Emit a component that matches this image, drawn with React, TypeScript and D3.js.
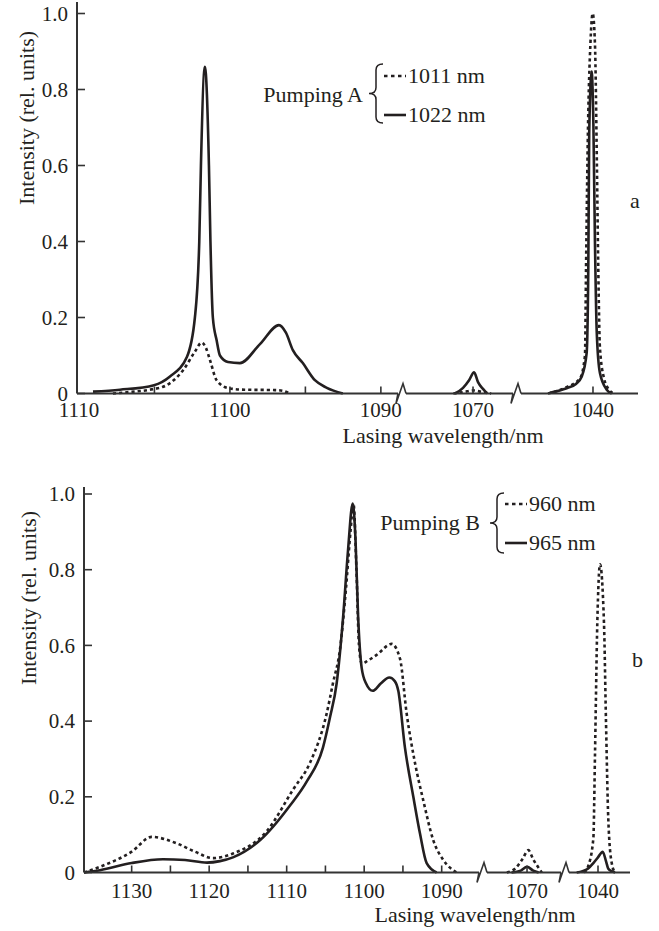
import React from "react";
import * as d3 from "d3";

// ---------- DATA (wavelength nm, relative intensity) ----------
// Panel a : Pumping A
const a1011Main: [number, number][] = [
  [1107.75, 0], [1106.62, 0.004], [1105.3, 0.01], [1104.19, 0.022], [1103.09, 0.062],
  [1102.32, 0.11], [1101.87, 0.134], [1101.59, 0.12], [1101.32, 0.088], [1100.88, 0.035],
  [1100.11, 0.014], [1099.01, 0.01], [1097.02, 0.009], [1096.49, 0.007], [1096.03, 0],
];
const a1011Mid: [number, number][] = [
  [1071.3, 0], [1070.6, 0.004], [1070.0, 0.008], [1069.4, 0.004], [1068.8, 0],
];
const a1011Right: [number, number][] = [
  [1042.98, 0], [1041.79, 0.016], [1040.86, 0.04], [1040.53, 0.1], [1040.46, 0.33],
  [1040.33, 0.7], [1040.17, 0.92], [1040.02, 1.0], [1039.87, 0.92], [1039.74, 0.6],
  [1039.65, 0.33], [1039.54, 0.12], [1039.27, 0.04], [1038.94, 0.01], [1038.61, 0],
];
const a1022Main: [number, number][] = [
  [1109.07, 0.005], [1107.28, 0.01], [1105.03, 0.022], [1103.97, 0.045], [1102.85, 0.096],
  [1102.32, 0.2], [1102.03, 0.4], [1101.92, 0.6], [1101.66, 0.86], [1101.39, 0.6],
  [1101.29, 0.4], [1101.13, 0.2], [1100.88, 0.14], [1100.66, 0.1], [1100.13, 0.083],
  [1099.34, 0.08], [1098.01, 0.13], [1096.75, 0.18], [1096.29, 0.16], [1095.83, 0.114],
  [1095.17, 0.08], [1094.37, 0.035], [1093.58, 0.015], [1092.52, 0],
];
const a1022Mid: [number, number][] = [
  [1071.19, 0], [1070.66, 0.015], [1070.26, 0.035], [1069.93, 0.056], [1069.67, 0.03],
  [1069.34, 0.012], [1069.07, 0],
];
const a1022Right: [number, number][] = [
  [1042.85, 0.002], [1041.74, 0.014], [1041.13, 0.025], [1040.75, 0.044], [1040.42, 0.106],
  [1040.31, 0.33], [1040.25, 0.685], [1040.09, 0.847], [1039.97, 0.7], [1039.87, 0.4],
  [1039.75, 0.16], [1039.54, 0.054], [1039.09, 0.01], [1038.76, 0],
];

// Panel b : Pumping B
const b960Main: [number, number][] = [
  [1136.15, 0], [1134.09, 0.015], [1130, 0.055], [1127.42, 0.094], [1124.19, 0.077],
  [1121.83, 0.055], [1119.51, 0.038], [1116.93, 0.05], [1112.54, 0.11], [1109.15, 0.22],
  [1106.99, 0.29], [1104.84, 0.42], [1104.03, 0.5], [1103.12, 0.59], [1102.35, 0.75],
  [1101.77, 0.9], [1101.38, 0.975], [1101.0, 0.8], [1100.67, 0.6], [1100.32, 0.552],
  [1099.51, 0.56], [1098.39, 0.575], [1096.45, 0.604], [1095.38, 0.565], [1094.52, 0.42],
  [1093.45, 0.29], [1092.37, 0.19], [1091.08, 0.085], [1089.79, 0.033], [1088.06, 0],
];
const b960Mid: [number, number][] = [
  [1072.6, 0], [1071.55, 0.01], [1070.6, 0.035], [1069.83, 0.059], [1069.2, 0.035], [1068.1, 0],
];
const b960Right: [number, number][] = [
  [1041.8, 0], [1041.3, 0.015], [1040.6, 0.09], [1040.39, 0.31], [1040.09, 0.66],
  [1039.74, 0.814], [1039.23, 0.66], [1038.97, 0.4], [1038.67, 0.14], [1038.23, 0.025], [1037.8, 0],
];
const b965Main: [number, number][] = [
  [1136.15, 0], [1134.09, 0.006], [1130, 0.025], [1125.96, 0.035], [1123.12, 0.033],
  [1120.28, 0.026], [1118.61, 0.03], [1116.93, 0.04], [1113.45, 0.085], [1109.57, 0.177],
  [1107.42, 0.24], [1105.32, 0.33], [1104.41, 0.41], [1103.55, 0.5], [1102.7, 0.68],
  [1102.09, 0.85], [1101.48, 0.975], [1101.12, 0.88], [1100.79, 0.68], [1100.32, 0.54],
  [1099.77, 0.5], [1098.9, 0.48], [1097.83, 0.5], [1096.76, 0.515], [1096.03, 0.505],
  [1095.6, 0.48], [1094.74, 0.33], [1093.66, 0.2], [1092.8, 0.103], [1091.94, 0.025], [1090.65, 0],
];
const b965Mid: [number, number][] = [
  [1072.0, 0], [1070.8, 0.005], [1070.0, 0.015], [1069.2, 0.005], [1068.5, 0],
];
const b965Right: [number, number][] = [
  [1042.75, 0], [1041.3, 0.01], [1040.6, 0.025], [1040.0, 0.04], [1039.39, 0.055],
  [1038.97, 0.03], [1038.67, 0.01], [1038.2, 0.003], [1037.8, 0],
];

const yTicks = [0, 0.2, 0.4, 0.6, 0.8, 1.0];
const aTickValues = [1105, 1100, 1095, 1090, 1070, 1040];
const aTickLabels = [1110, 1100, 1090, 1070, 1040];
const bTickValues = [1130, 1125, 1120, 1115, 1110, 1105, 1100, 1095, 1090, 1070, 1040];
const bTickLabels = [1130, 1120, 1110, 1100, 1090, 1070, 1040];

const FONT = "'Liberation Serif', 'Times New Roman', serif";
const INK = "#231f20";
const AXIS = "#333";

type Series = { segs: [number, number][][]; dotted: boolean };

type PanelProps = {
  xDomain: number[];
  xRange: number[];
  breaks: number[];
  yRange: [number, number];
  yAxisTop: number;
  tickValues: number[];
  tickLabels: number[];
  series: Series[];
  tickLabelY: number;
  yLabelRight: number;
  yTitleX: number;
  yTitleY: number;
  xTitleX: number;
  xTitleY: number;
  pumpLabel: string;
  pumpX: number;
  pumpY: number;
  braceX: number;
  braceY1: number;
  braceY2: number;
  legendNames: string[];
  legendY: number[];
  letter: string;
  letterX: number;
  letterY: number;
};

function Panel(p: PanelProps) {
  const x = d3.scaleLinear().domain(p.xDomain).range(p.xRange);
  const y = d3.scaleLinear().domain([0, 1]).range(p.yRange);
  const y0 = y(0);
  const x0 = p.xRange[0];
  const xEnd = p.xRange[p.xRange.length - 1];
  const line = d3
    .line<[number, number]>()
    .x((d) => x(d[0]))
    .y((d) => y(d[1]))
    .curve(d3.curveMonotoneX);

  // axis pieces with breaks
  const pieces: [number, number][] = [];
  let start = x0;
  p.breaks.forEach((b) => {
    pieces.push([start, b - 4]);
    start = b + 4;
  });
  pieces.push([start, xEnd]);

  const bx = p.braceX; // right side of brace
  const bt = bx - 14;
  const bm = (bx + bt) / 2;
  const ym = (p.braceY1 + p.braceY2) / 2;
  const r = 6;
  const brace = `M${bx},${p.braceY1} Q${bm},${p.braceY1} ${bm},${p.braceY1 + r} L${bm},${ym - r} Q${bm},${ym} ${bt},${ym} Q${bm},${ym} ${bm},${ym + r} L${bm},${p.braceY2 - r} Q${bm},${p.braceY2} ${bx},${p.braceY2}`;

  return (
    <g>
      {/* curves */}
      {p.series.map((s, i) =>
        s.segs.map((seg, j) => (
          <path
            key={`${i}-${j}`}
            d={line(seg) || ""}
            fill="none"
            stroke={INK}
            strokeWidth={s.dotted ? 2.6 : 2.6}
            strokeDasharray={s.dotted ? "3.2 3" : undefined}
            strokeLinejoin="round"
          />
        ))
      )}
      {/* y axis */}
      <line x1={x0} x2={x0} y1={p.yAxisTop} y2={y0} stroke={AXIS} strokeWidth={2} />
      {yTicks.map((t) => (
        <g key={t}>
          <line x1={x0} x2={x0 + 8} y1={y(t)} y2={y(t)} stroke={AXIS} strokeWidth={1.6} />
          <text
            x={p.yLabelRight}
            y={y(t)}
            dy="0.35em"
            textAnchor="end"
            fontFamily={FONT}
            fontSize={21}
            fill={INK}
          >
            {t === 0 ? "0" : t.toFixed(1)}
          </text>
        </g>
      ))}
      {/* x axis */}
      {pieces.map(([a, b], i) => (
        <line key={i} x1={a} x2={b} y1={y0} y2={y0} stroke={AXIS} strokeWidth={2} />
      ))}
      {p.breaks.map((b, i) => (
        <path
          key={i}
          d={`M${b - 4},${y0} L${b - 6},${y0 + 10} L${b + 1},${y0 - 10} L${b + 4},${y0}`}
          fill="none"
          stroke={AXIS}
          strokeWidth={1.6}
          strokeLinejoin="miter"
        />
      ))}
      {p.tickValues.map((t) => (
        <line key={t} x1={x(t)} x2={x(t)} y1={y0} y2={y0 - 7} stroke={AXIS} strokeWidth={1.6} />
      ))}
      {p.tickLabels.map((t) => (
        <text
          key={t}
          x={x(t)}
          y={p.tickLabelY}
          textAnchor="middle"
          fontFamily={FONT}
          fontSize={21}
          fill={INK}
        >
          {t}
        </text>
      ))}
      {/* titles */}
      <text
        transform={`translate(${p.yTitleX},${p.yTitleY}) rotate(-90)`}
        textAnchor="middle"
        fontFamily={FONT}
        fontSize={22}
        fill={INK}
      >
        Intensity (rel. units)
      </text>
      <text x={p.xTitleX} y={p.xTitleY} textAnchor="middle" fontFamily={FONT} fontSize={22} fill={INK}>
        Lasing wavelength/nm
      </text>
      {/* legend */}
      <text x={p.pumpX} y={p.pumpY} textAnchor="end" fontFamily={FONT} fontSize={22} fill={INK}>
        {p.pumpLabel}
      </text>
      <path d={brace} fill="none" stroke={INK} strokeWidth={1.5} />
      {p.legendNames.map((n, i) => (
        <g key={n}>
          <line
            x1={bx + 1}
            x2={bx + 23}
            y1={p.legendY[i] - 7}
            y2={p.legendY[i] - 7}
            stroke={INK}
            strokeWidth={2.6}
            strokeDasharray={i === 0 ? "3.5 3.5" : undefined}
          />
          <text x={bx + 25} y={p.legendY[i]} fontFamily={FONT} fontSize={22} fill={INK}>
            {n}
          </text>
        </g>
      ))}
      <text x={p.letterX} y={p.letterY} fontFamily={FONT} fontSize={22} fill={INK}>
        {p.letter}
      </text>
    </g>
  );
}

export default function App() {
  return (
    <svg
      width={659}
      height={931}
      style={{ position: "absolute", left: 0, top: 0, background: "#fff", display: "block" }}
    >
      <rect width={659} height={931} fill="#fff" />
      <Panel
        xDomain={[1110.13, 1088.6, 1074.7, 1067.09, 1045.03, 1037.02]}
        xRange={[77, 402, 402, 517, 517, 638]}
        breaks={[402, 517]}
        yRange={[393.5, 13.5]}
        yAxisTop={2}
        tickValues={aTickValues}
        tickLabels={aTickLabels}
        series={[
          { segs: [a1011Main, a1011Mid, a1011Right], dotted: true },
          { segs: [a1022Main, a1022Mid, a1022Right], dotted: false },
        ]}
        tickLabelY={417}
        yLabelRight={68}
        yTitleX={34}
        yTitleY={118}
        xTitleX={443}
        xTitleY={443}
        pumpLabel="Pumping A"
        pumpX={363}
        pumpY={102}
        braceX={383}
        braceY1={64}
        braceY2={123}
        legendNames={["1011 nm", "1022 nm"]}
        legendY={[83, 122]}
        letter="a"
        letterX={630}
        letterY={208}
      />
      <Panel
        xDomain={[1136.15, 1084.67, 1075.68, 1065.1, 1044.26, 1035.87]}
        xRange={[84, 483, 483, 565, 565, 630]}
        breaks={[483, 565]}
        yRange={[872.5, 494]}
        yAxisTop={487}
        tickValues={bTickValues}
        tickLabels={bTickLabels}
        series={[
          { segs: [b960Main, b960Mid, b960Right], dotted: true },
          { segs: [b965Main, b965Mid, b965Right], dotted: false },
        ]}
        tickLabelY={898}
        yLabelRight={75}
        yTitleX={36}
        yTitleY={598}
        xTitleX={475}
        xTitleY={922}
        pumpLabel="Pumping B"
        pumpX={480}
        pumpY={530}
        braceX={504}
        braceY1={493}
        braceY2={553}
        legendNames={["960 nm", "965 nm"]}
        legendY={[511, 550]}
        letter="b"
        letterX={632}
        letterY={667}
      />
    </svg>
  );
}
